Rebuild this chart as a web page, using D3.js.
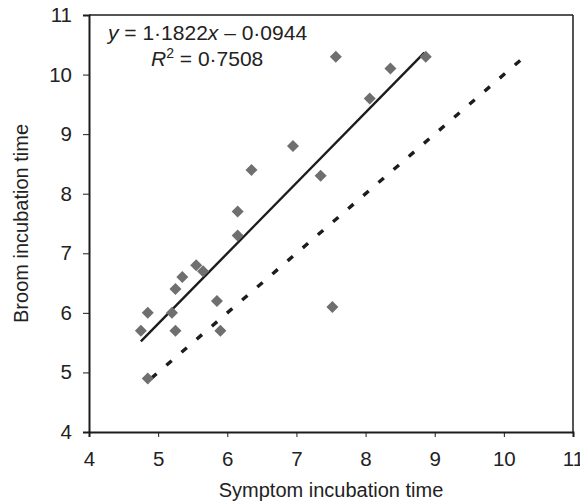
<!DOCTYPE html>
<html><head><meta charset="utf-8">
<script src="https://cdn.jsdelivr.net/npm/d3@7"></script>
<style>body{margin:0;background:#fff}svg{display:block}text{font-family:"Liberation Sans",Arial,sans-serif;fill:#222}</style>
</head><body>
<svg id="c" width="580" height="503"></svg>
<script>
const symptom = [4.75,4.85,4.85,5.2,5.25,5.25,5.35,5.55,5.65,5.85,5.9,6.15,6.15,6.35,6.95,7.35,7.52,7.57,8.06,8.36,8.87];
const broom   = [5.7, 6.0, 4.9, 6.0,5.7, 6.4, 6.6, 6.8, 6.7, 6.2, 5.7,7.3, 7.7, 8.4, 8.8, 8.3, 6.1, 10.3,9.6, 10.1,10.3];
const xTicks = [4,5,6,7,8,9,10,11];
const yTicks = [4,5,6,7,8,9,10,11];
const slope = 1.1822, intercept = -0.0944;
const fitRange = [4.75, 8.85];
const identityRange = [4.9, 10.3];

const svg = d3.select("#c");
const x = d3.scaleLinear().domain([4,11]).range([89,573]);
const y = d3.scaleLinear().domain([4,11]).range([432,15]);
const ink = "#1c1c1c";

// frame top/right
svg.append("line").attr("x1",x(4)).attr("x2",x(11)).attr("y1",y(11)).attr("y2",y(11)).attr("stroke",ink).attr("stroke-width",1.5);
svg.append("line").attr("x1",x(11)).attr("x2",x(11)).attr("y1",y(11)).attr("y2",y(4)).attr("stroke",ink).attr("stroke-width",1.5);

const xa = svg.append("g").attr("transform",`translate(0,${y(4)})`)
  .call(d3.axisBottom(x).tickValues(xTicks).tickSize(5).tickPadding(14).tickFormat(d3.format("d")));
const ya = svg.append("g").attr("transform",`translate(${x(4)},0)`)
  .call(d3.axisLeft(y).tickValues(yTicks).tickSize(6).tickPadding(11).tickFormat(d3.format("d")));
[xa,ya].forEach(g=>{
  g.select(".domain").attr("stroke",ink).attr("stroke-width",2);
  g.selectAll(".tick line").attr("stroke",ink).attr("stroke-width",1);
  g.selectAll("text").attr("font-size",20.5).attr("fill","#222").attr("font-family","Liberation Sans, Arial, sans-serif");
});

// lines
const line = d3.line().x(d=>x(d[0])).y(d=>y(d[1]));
svg.append("path").datum(identityRange.map(v=>[v,v])).attr("d",line)
  .attr("stroke",ink).attr("stroke-width",3.4).attr("stroke-dasharray","7,13").attr("fill","none");
svg.append("path").datum(fitRange.map(v=>[v,slope*v+intercept])).attr("d",line)
  .attr("stroke",ink).attr("stroke-width",2.4).attr("fill","none");

// points
const sym = d3.symbol().type(d3.symbolSquare).size(72);
svg.append("g").selectAll("path").data(symptom.map((s,i)=>[s,broom[i]])).join("path")
  .attr("d",sym).attr("transform",d=>`translate(${x(d[0])},${y(d[1])}) rotate(45)`)
  .attr("fill","#6f6f6f");

// equation
const eq = svg.append("text").attr("x",108).attr("y",40).attr("font-size",21);
eq.append("tspan").attr("font-style","italic").text("y");
eq.append("tspan").text(" = 1·1822");
eq.append("tspan").attr("font-style","italic").text("x");
eq.append("tspan").text(" – 0·0944");
const r2 = svg.append("text").attr("x",151).attr("y",66).attr("font-size",21);
r2.append("tspan").attr("font-style","italic").text("R");
r2.append("tspan").attr("font-size",14).attr("dy",-8).text("2");
r2.append("tspan").attr("dy",8).text(" = 0·7508");

// axis titles
svg.append("text").attr("x",(x(4)+x(11))/2).attr("y",497).attr("text-anchor","middle").attr("font-size",20).text("Symptom incubation time");
svg.append("text").attr("transform",`translate(28,${(y(4)+y(11))/2}) rotate(-90)`).attr("text-anchor","middle").attr("font-size",20).text("Broom incubation time");
</script>
</body></html>
